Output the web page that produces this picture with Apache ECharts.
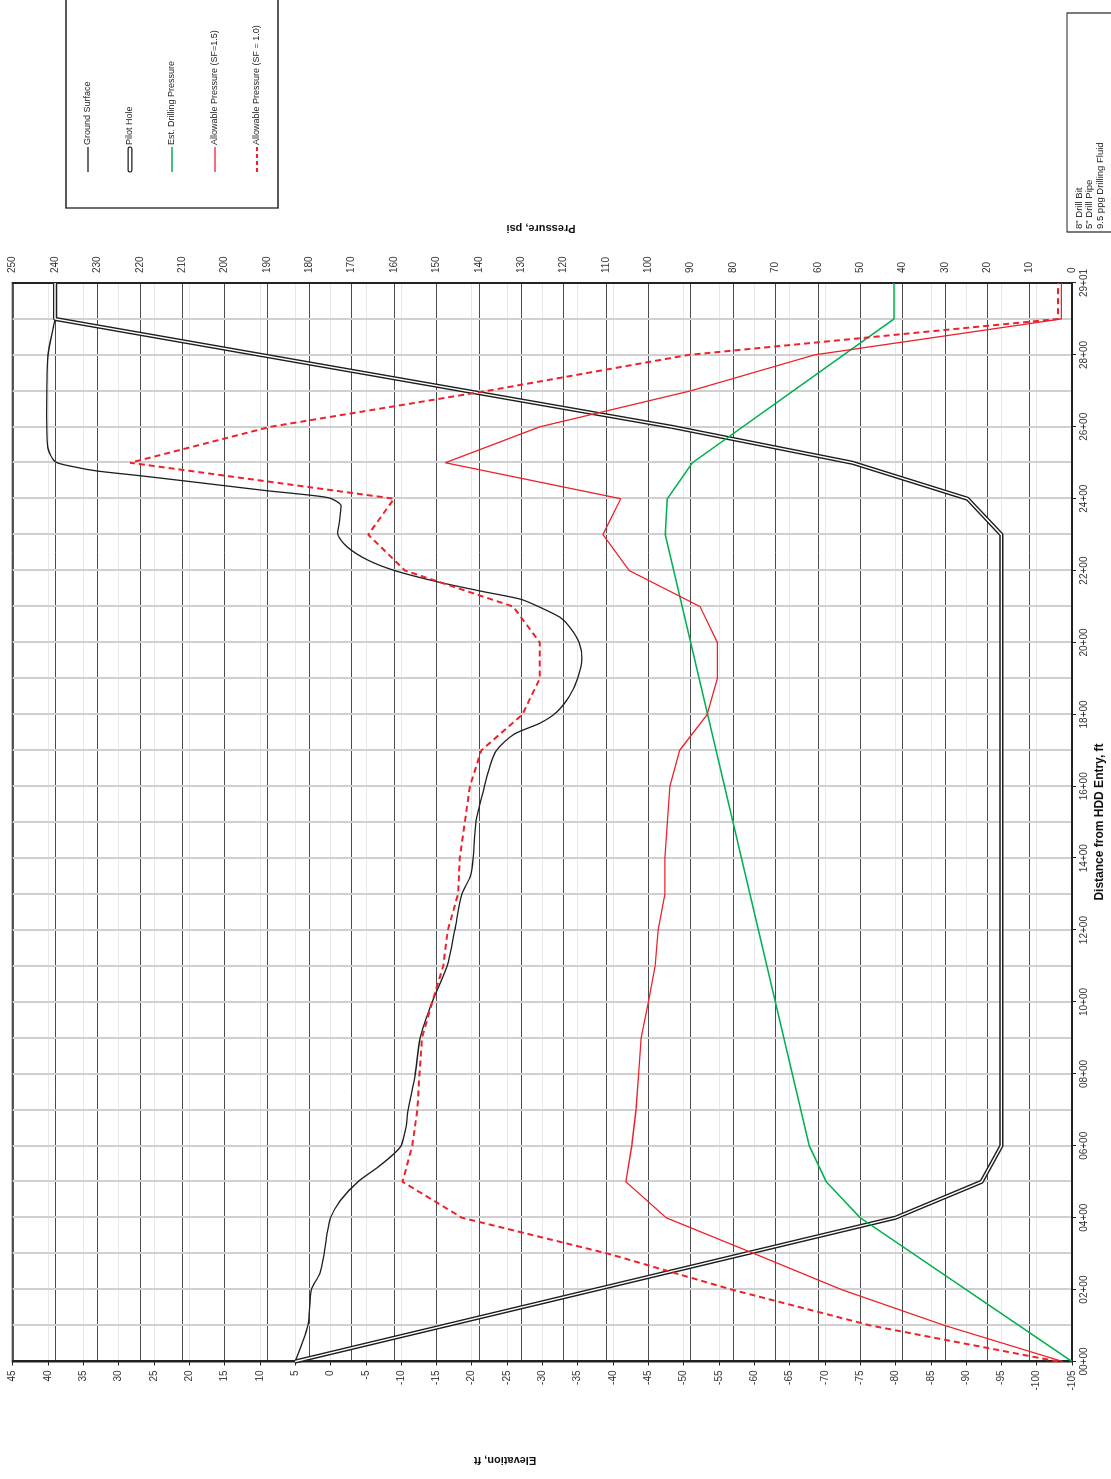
<!DOCTYPE html>
<html><head><meta charset="utf-8">
<script src="https://cdn.jsdelivr.net/npm/echarts/dist/echarts.min.js"></script>
<style>
html,body{margin:0;padding:0;width:1111px;height:1479px;overflow:hidden;background:#fff;}
#chart{position:absolute;left:0;top:0;width:1479px;height:1111px;transform-origin:0 0;transform:translate(0,1479px) rotate(-90deg);}
</style></head><body><div id="chart"></div>
<script>
// ---- data (distance in ft from HDD entry) ----
const distTickLabels = ['00+00','02+00','04+00','06+00','08+00','10+00','12+00','14+00','16+00','18+00','20+00','22+00','24+00','26+00','28+00','29+01'];

const groundDist = [0,100,200,245,300,355,400,448,500,542,578,600,653,700,800,900,1000,1100,1200,1300,1350,1400,1500,1600,1650,1700,1745,1776,1806,1850,1900,1956,2000,2040,2070,2095,2120,2142,2169,2200,2230,2267,2304,2340,2380,2401,2410,2422,2436,2450,2464,2477,2489,2503,2540,2632,2800,2882,2900,3000];
const groundElev = [5,3.2,2.7,1.5,0.9,0.5,0,-1.4,-3.9,-6.8,-9,-10,-10.7,-11,-12,-12.7,-14.4,-16.5,-17.6,-18.6,-19.8,-20.2,-20.6,-21.8,-22.5,-23.5,-26,-29.7,-32,-33.8,-35,-35.6,-35.2,-34,-32.5,-30,-27,-21.5,-15.1,-9.1,-5.2,-2.3,-1.0,-1.3,-1.5,0,3,8.9,14.9,20.9,27,33,36.4,39,40,40.2,40,39.2,39,38.9];

const pilotDist = [0,400,500,600,2300,2400,2500,2600,2900,3000];
const pilotElev = [5,-80,-92.2,-95,-95,-90.2,-73.9,-48.3,39,39];

const drillDist = [0,400,500,600,2300,2400,2500,2900,3000];
const drillPsi  = [0,50,58,62,96,95.5,89.6,42,42];

const allowDist = [0,100,200,300,400,500,600,700,800,900,1000,1100,1200,1300,1400,1500,1600,1700,1800,1900,2000,2100,2200,2300,2400,2500,2600,2700,2800,2900,3000];
const allow15Psi = [2.2,30,54.4,75,95.8,105.3,103.9,102.9,102.3,101.7,100,98.4,97.7,96.1,96.1,95.5,94.9,92.6,86.1,83.7,83.7,87.8,104.5,110.7,106.5,147.9,125.6,90,60.8,2.5,2.5];
const allow10Psi = [3.3,47.5,80.3,109.5,144,158,155.7,154.5,154,153.4,151,148.4,147.3,144.9,144.5,143.3,142.1,139.4,129.7,125.6,125.6,131.9,157.4,166.1,160,222.3,189.2,138,90.5,3.3,3.3];

const legendNames = ['Ground Surface','Pilot Hole','Est. Drilling Pressure','Allowable Pressure (SF=1.5)','Allowable Pressure (SF = 1.0)'];
const notes = ['8" Drill Bit','5" Drill Pipe','9.5 ppg Drilling Fluid'];

const zip = (a,b) => a.map((v,i)=>[v,b[i]]);
const FONT = "'Liberation Sans Narrow','Liberation Sans',Arial,sans-serif";
const RED = '#f0202a', GREEN = '#00b050', BLK = '#1e1e1e';

const chart = echarts.init(document.getElementById('chart'), null, {renderer:'canvas'});

const legendY = [88,130,172,215,257];
const gLegend = [];
gLegend.push({type:'rect', shape:{x:1271,y:66,width:260,height:212}, style:{fill:'#fff',stroke:'#222',lineWidth:1.3}, z:10});
gLegend.push({type:'line', shape:{x1:1307,y1:legendY[0],x2:1332,y2:legendY[0]}, style:{stroke:BLK,lineWidth:1.3}, z:11});
gLegend.push({type:'rect', shape:{x:1307,y:legendY[1]-1.8,width:25,height:3.6,r:1.8}, style:{fill:'#fff',stroke:BLK,lineWidth:1.2}, z:11});
gLegend.push({type:'line', shape:{x1:1307,y1:legendY[2],x2:1332,y2:legendY[2]}, style:{stroke:GREEN,lineWidth:1.5}, z:11});
gLegend.push({type:'line', shape:{x1:1307,y1:legendY[3],x2:1332,y2:legendY[3]}, style:{stroke:RED,lineWidth:1.3}, z:11});
gLegend.push({type:'line', shape:{x1:1307,y1:legendY[4],x2:1332,y2:legendY[4]}, style:{stroke:RED,lineWidth:2,lineDash:[4,3]}, z:11});
legendNames.forEach((n,i)=>{
  gLegend.push({type:'text', x:1334, y:legendY[i], style:{text:n, fill:'#222', font:'9px '+FONT, textAlign:'left', textVerticalAlign:'middle'}, z:11});
});
// notes box
gLegend.push({type:'rect', shape:{x:1247,y:1067,width:219,height:60}, style:{fill:'#fff',stroke:'#222',lineWidth:1.2}, z:10});
notes.forEach((n,i)=>{
  gLegend.push({type:'text', x:1250, y:1079+i*10.5, style:{text:n, fill:'#222', font:'9.5px '+FONT, textAlign:'left', textVerticalAlign:'middle'}, z:11});
});
// axis names
gLegend.push({type:'text', x:657, y:1100, style:{text:'Distance from HDD Entry, ft', fill:'#111', font:'bold 12px '+FONT, textAlign:'center', textVerticalAlign:'middle'}, z:11});
gLegend.push({type:'text', x:1251, y:541, rotation:Math.PI/2, style:{text:'Pressure, psi', fill:'#111', font:'bold 11px '+FONT, textAlign:'center', textVerticalAlign:'middle'}, z:11});
gLegend.push({type:'text', x:19, y:505, rotation:Math.PI/2, style:{text:'Elevation, ft', fill:'#111', font:'bold 11px '+FONT, textAlign:'center', textVerticalAlign:'middle'}, z:11});

const option = {
  animation:false,
  backgroundColor:'#fff',
  textStyle:{fontFamily:FONT},
  grid:{left:117.5, right:283, top:12.7, bottom:39, show:true, borderColor:'#222', borderWidth:2, containLabel:false, outerBoundsMode:'none'},
  xAxis:{type:'value', min:0, max:3000, interval:200,
    axisLine:{show:true, onZero:false, lineStyle:{color:'#222', width:2}},
    axisTick:{show:true, length:4, lineStyle:{color:'#222', width:1}},
    minorTick:{show:false, splitNumber:2},
    axisLabel:{color:'#333', fontSize:10, margin:7, fontFamily:FONT, formatter:v=>distTickLabels[Math.round(v/200)]},
    splitLine:{show:true, lineStyle:{color:'#d0d0d0', width:2}},
    minorSplitLine:{show:true, lineStyle:{color:'#d0d0d0', width:2}}
  },
  yAxis:[
    {type:'value', min:-105, max:45, interval:5, position:'left',
      axisLine:{show:true, onZero:false, lineStyle:{color:'#222', width:2}},
      axisTick:{show:true, length:4, lineStyle:{color:'#222'}},
      axisLabel:{color:'#333', fontSize:10, margin:9, fontFamily:FONT},
      splitLine:{show:true, lineStyle:{color:'#e8e8e8', width:1}}
    },
    {type:'value', min:0, max:250, interval:10, position:'right',
      axisLine:{show:true, onZero:false, lineStyle:{color:'#222', width:2}},
      axisTick:{show:false},
      axisLabel:{color:'#333', fontSize:10, margin:10, fontFamily:FONT},
      splitLine:{show:true, lineStyle:{color:'#4a4a4a', width:1}}
    }
  ],
  series:[
    {name:legendNames[0], type:'line', yAxisIndex:0, data:zip(groundDist,groundElev), symbol:'none', smooth:0.25,
      lineStyle:{color:BLK, width:1.3}, z:3},
    {name:legendNames[1], type:'line', yAxisIndex:0, data:zip(pilotDist,pilotElev), symbol:'none',
      lineStyle:{color:BLK, width:4.2}, z:4},
    {name:legendNames[1]+' core', type:'line', yAxisIndex:0, data:zip(pilotDist,pilotElev), symbol:'none',
      lineStyle:{color:'#fff', width:1.4}, z:5},
    {name:legendNames[2], type:'line', yAxisIndex:1, data:zip(drillDist,drillPsi), symbol:'none',
      lineStyle:{color:GREEN, width:1.5}, z:6},
    {name:legendNames[3], type:'line', yAxisIndex:1, data:zip(allowDist,allow15Psi), symbol:'none',
      lineStyle:{color:RED, width:1.3}, z:6},
    {name:legendNames[4], type:'line', yAxisIndex:1, data:zip(allowDist,allow10Psi), symbol:'none',
      lineStyle:{color:RED, width:2, type:[6,4]}, z:6}
  ],
  graphic:gLegend
};
chart.setOption(option);
</script></body></html>
